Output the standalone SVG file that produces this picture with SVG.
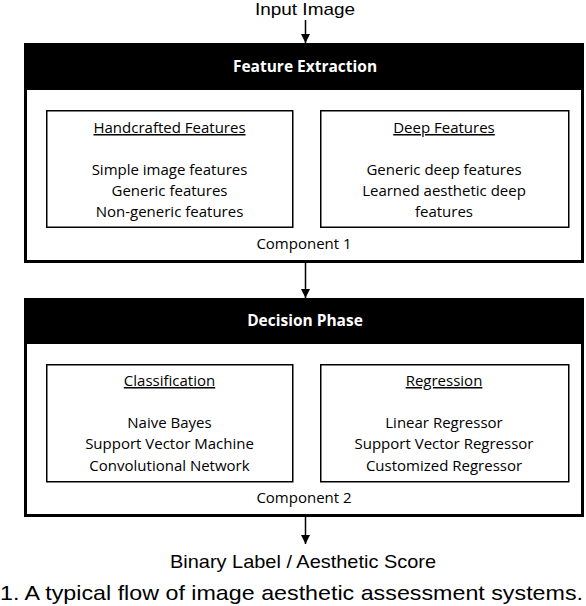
<svg xmlns="http://www.w3.org/2000/svg" width="586" height="606" viewBox="0 0 586 606">
<defs>
<style>
.outer{fill:#fff;stroke:#000;stroke-width:3}
.hdr{fill:#000}
.inner{fill:#fff;stroke:#000;stroke-width:1.5}
.ht{font-family:"Open Sans","Liberation Sans",sans-serif;font-weight:bold;font-size:15.5px;fill:#fff;text-anchor:middle}
.t{font-family:"Open Sans","Liberation Sans",sans-serif;font-size:15px;fill:#000;text-anchor:middle}
.u{text-decoration:underline}
.lbl{font-family:"Liberation Sans",Arial,sans-serif;fill:#000;text-anchor:middle}
.conn{stroke:#000;stroke-width:1.5;fill:none;marker-end:url(#ah)}
</style>
<marker id="ah" viewBox="0 0 10 10" refX="10" refY="5" markerWidth="6" markerHeight="6" markerUnits="strokeWidth" orient="auto">
<path d="M0,0 L10,5 L0,10 z" fill="#000"/>
</marker>
</defs>
<rect width="586" height="606" fill="#fff"/>
<text class="lbl" x="305" y="15" font-size="17" textLength="100" lengthAdjust="spacingAndGlyphs">Input Image</text>
<g id="component1">
<rect class="outer" x="25.5" y="44.5" width="557" height="217"/>
<rect class="hdr" x="24" y="43" width="560" height="47"/>
<text class="ht" x="305" y="72">Feature Extraction</text>
<text class="t" x="304" y="249">Component 1</text>
</g>
<g id="handcrafted">
<rect class="inner" x="46.75" y="110.75" width="246" height="116.5"/>
<text class="t u" x="169.5" y="133">Handcrafted Features</text>
<text class="t" x="169.5" y="175">Simple image features</text>
<text class="t" x="169.5" y="196">Generic features</text>
<text class="t" x="169.5" y="217">Non-generic features</text>
</g>
<g id="deep">
<rect class="inner" x="320.75" y="110.75" width="248" height="116.5"/>
<text class="t u" x="444" y="133">Deep Features</text>
<text class="t" x="444" y="175">Generic deep features</text>
<text class="t" x="444" y="196">Learned aesthetic deep</text>
<text class="t" x="444" y="217">features</text>
</g>
<g id="component2">
<rect class="outer" x="25.5" y="299.5" width="557" height="216"/>
<rect class="hdr" x="24" y="298" width="560" height="46"/>
<text class="ht" x="305" y="326">Decision Phase</text>
<text class="t" x="304" y="503">Component 2</text>
</g>
<g id="classification">
<rect class="inner" x="46.75" y="364.75" width="246" height="117"/>
<text class="t u" x="169.5" y="386">Classification</text>
<text class="t" x="169.5" y="428">Naive Bayes</text>
<text class="t" x="169.5" y="449">Support Vector Machine</text>
<text class="t" x="169.5" y="471">Convolutional Network</text>
</g>
<g id="regression">
<rect class="inner" x="320.75" y="364.75" width="248" height="117"/>
<text class="t u" x="444" y="386">Regression</text>
<text class="t" x="444" y="428">Linear Regressor</text>
<text class="t" x="444" y="449">Support Vector Regressor</text>
<text class="t" x="444" y="471">Customized Regressor</text>
</g>
<g id="connectors">
<line class="conn" x1="305.5" y1="20" x2="305.5" y2="43"/>
<line class="conn" x1="305.5" y1="263" x2="305.5" y2="298"/>
<line class="conn" x1="305.5" y1="517" x2="305.5" y2="544"/>
</g>
<text class="lbl" x="303" y="568" font-size="19" textLength="266" lengthAdjust="spacingAndGlyphs">Binary Label / Aesthetic Score</text>
<text class="lbl" x="0" y="600" font-size="21" style="text-anchor:start" textLength="583" lengthAdjust="spacingAndGlyphs">1. A typical flow of image aesthetic assessment systems.</text>
</svg>
